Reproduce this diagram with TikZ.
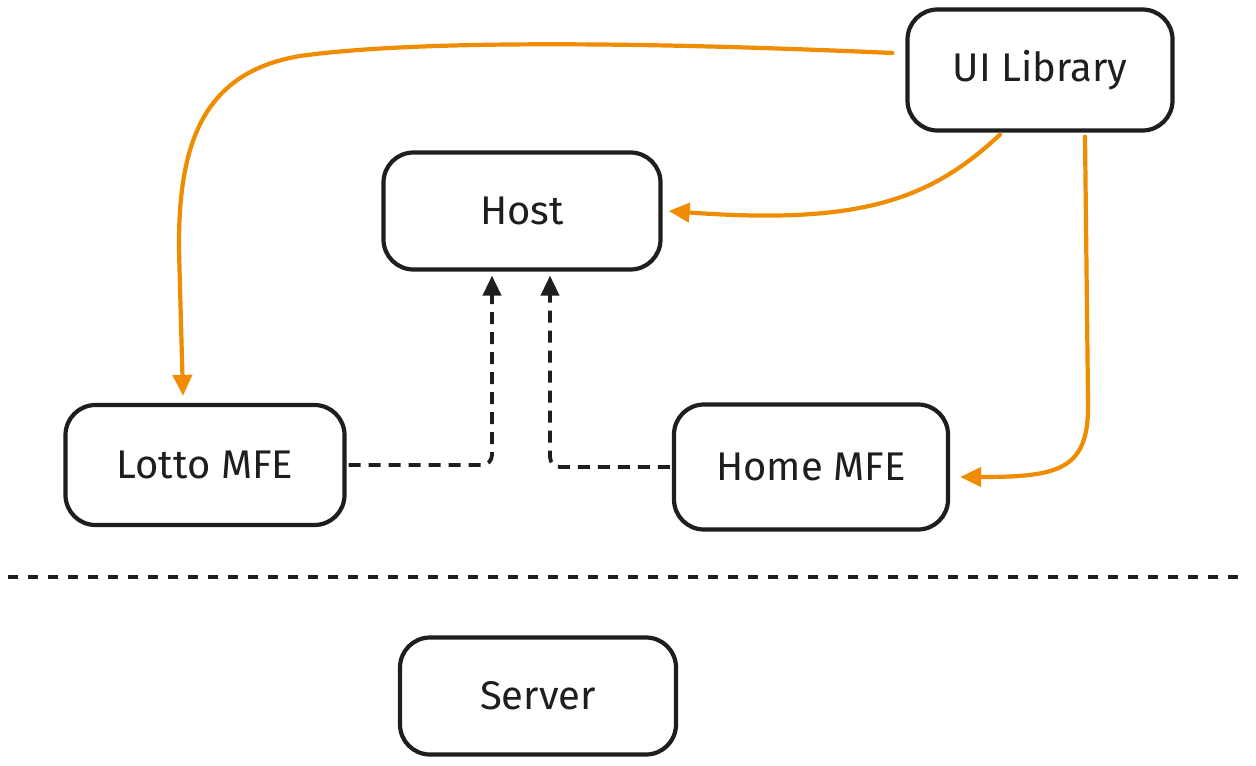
\documentclass[tikz,border=0pt]{standalone}
\usepackage{fontspec}
\setmainfont{Fira Sans}
\usetikzlibrary{arrows.meta}
\definecolor{ink}{HTML}{1E1E1E}
\definecolor{orng}{HTML}{F08C00}
\tikzset{
  box/.style={draw=ink, line width=2.1pt, rounded corners=15pt, fill=white,
    text=ink, font=\fontsize{20}{24}\selectfont, inner sep=0pt},
  oarrow/.style={draw=orng, line width=2.1pt, line cap=round,
    -{Triangle[length=10.5pt,width=9.5pt]}},
  darrow/.style={draw=ink, line width=1.9pt, dash pattern=on 6pt off 4pt,
    rounded corners=5pt, -{Triangle[length=10pt,width=9pt]}},
  sepline/.style={draw=ink, line width=1.7pt, dash pattern=on 5pt off 5pt}
}
\begin{document}
\begin{tikzpicture}[x=0.5pt,y=-0.5pt]
\useasboundingbox[fill=white] (0,0) rectangle (1256,765);
\node[box, minimum width=132.5pt, minimum height=60.5pt] (ui) at (1040,70) {UI Library};
\node[box, minimum width=138.5pt, minimum height=58.5pt] (host) at (522,211) {Host};
\node[box, minimum width=139.5pt, minimum height=60pt] (lotto) at (205,465) {Lotto MFE};
\node[box, minimum width=137pt, minimum height=62.5pt] (home) at (811,467) {Home MFE};
\node[box, minimum width=138pt, minimum height=58.5pt] (server) at (538,696) {Server};
\coordinate (sepL) at (8,577);
\coordinate (sepR) at (1242,577);
\draw[sepline] (sepL) -- (sepR);
% UI Library -> Lotto MFE
\draw[oarrow] ([xshift=-6.5pt,yshift=8.5pt]ui.west) .. controls (600,40) and (400,42) .. (300,56)
  .. controls (205,72) and (178,140) .. (179,250) -- ([xshift=-11pt,yshift=3.5pt]lotto.north);
% UI Library -> Host
\draw[oarrow] ([xshift=-20pt,yshift=-1pt]ui.south) .. controls (930,200) and (860,225) .. ([xshift=3pt]host.east);
% UI Library -> Home MFE
\draw[oarrow] ([xshift=22.5pt,yshift=-2pt]ui.south) -- (1088,400)
  .. controls (1090,470) and (1060,477) .. ([xshift=5pt,yshift=-5pt]home.east);
% dashed to Host
\draw[darrow] ([xshift=1pt]lotto.east) -| ([xshift=-15pt,yshift=-2pt]host.south);
\draw[darrow] ([xshift=-1pt]home.west) -| ([xshift=14pt,yshift=-2pt]host.south);
\end{tikzpicture}
\end{document}
